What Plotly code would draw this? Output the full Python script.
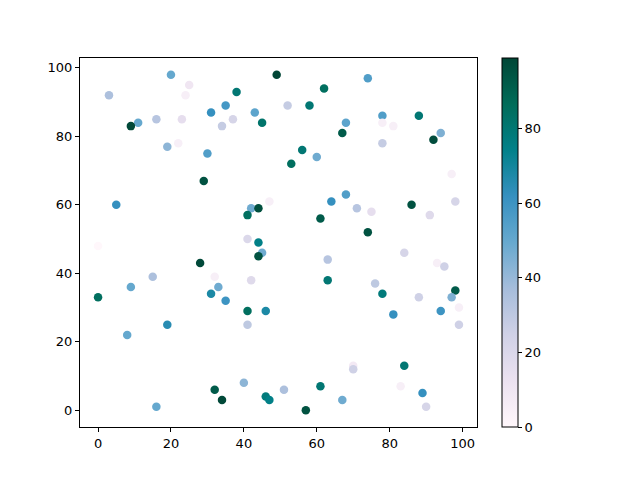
import plotly.graph_objects as go

# values (x, y, colour value)
xs = [3, 20, 24, 25, 49, 38, 35, 31, 43, 45, 37, 34, 23, 16, 11, 9, 19, 22, 30, 29,
      5, 42, 44, 41, 47, 0, 41, 44, 62, 74, 52, 58, 68, 67, 78, 78, 81, 88, 94, 92,
      78, 56, 60, 53, 97, 64, 68, 71, 75, 61, 86, 91, 98, 74, 45, 44, 28, 15, 9, 32,
      42, 33, 31, 35, 0, 41, 46, 41, 19, 8, 40, 32, 34, 46, 47, 16, 51, 63, 84, 93,
      95, 63, 76, 78, 88, 98, 97, 99, 94, 81, 99, 70, 70, 84, 83, 61, 67, 57, 89, 90]
ys = [92, 98, 92, 95, 98, 93, 89, 87, 87, 84, 85, 83, 85, 85, 84, 83, 77, 78, 75, 67,
      60, 59, 59, 57, 61, 48, 50, 49, 94, 97, 89, 89, 84, 81, 86, 84, 83, 86, 81, 79,
      78, 76, 74, 72, 69, 61, 63, 59, 58, 56, 60, 57, 61, 52, 46, 45, 43, 39, 36, 39,
      38, 36, 34, 32, 33, 29, 29, 25, 25, 22, 8, 6, 3, 4, 3, 1, 6, 44, 46, 43,
      42, 38, 37, 34, 33, 35, 33, 30, 29, 28, 25, 13, 12, 13, 7, 7, 3, 0, 5, 1]
colors = [35, 50, 5, 10, 99, 80, 58, 62, 52, 82, 22, 28, 15, 32, 50, 98, 42, 5, 55, 95,
          62, 48, 96, 85, 5, 0, 20, 75, 85, 55, 28, 80, 52, 92, 55, 5, 5, 80, 45, 97,
          28, 80, 48, 85, 5, 62, 55, 32, 15, 92, 95, 18, 22, 95, 48, 95, 98, 35, 50, 5,
          18, 48, 68, 60, 85, 85, 68, 30, 65, 50, 42, 92, 98, 78, 75, 50, 35, 32, 22, 5,
          25, 80, 30, 78, 25, 92, 45, 5, 60, 62, 25, 8, 25, 80, 5, 80, 48, 95, 62, 22]

fig = go.Figure(go.Scatter(
    x=xs, y=ys, mode="markers",
    marker=dict(size=8.5, color=colors, colorscale="PuBuGn", cmin=0, cmax=99,
                line=dict(width=0), showscale=True,
                colorbar=dict(x=1.063, xanchor="left", xpad=0, y=0.5, ypad=0,
                              len=1, thickness=16,
                              outlinewidth=1, outlinecolor="black",
                              tickvals=[0, 20, 40, 60, 80], ticks="outside",
                              ticklen=4, tickcolor="black")),
    showlegend=False))

axis = dict(showgrid=False, zeroline=False, showline=True, linecolor="black",
            linewidth=1, mirror=True, ticks="outside", ticklen=4, tickcolor="black")
fig.update_xaxes(range=[-4.95, 103.95], tickvals=[0, 20, 40, 60, 80, 100], **axis)
fig.update_yaxes(range=[-4.9, 102.9], tickvals=[0, 20, 40, 60, 80, 100], **axis)
# the page body adds an 8px offset, so the margins are shifted to compensate
fig.update_layout(width=640, height=480, plot_bgcolor="white", paper_bgcolor="white",
                  margin=dict(l=72, r=171, t=50, b=61, autoexpand=False),
                  font=dict(family="DejaVu Sans", size=13, color="black"))
fig.write_html("out.html")
